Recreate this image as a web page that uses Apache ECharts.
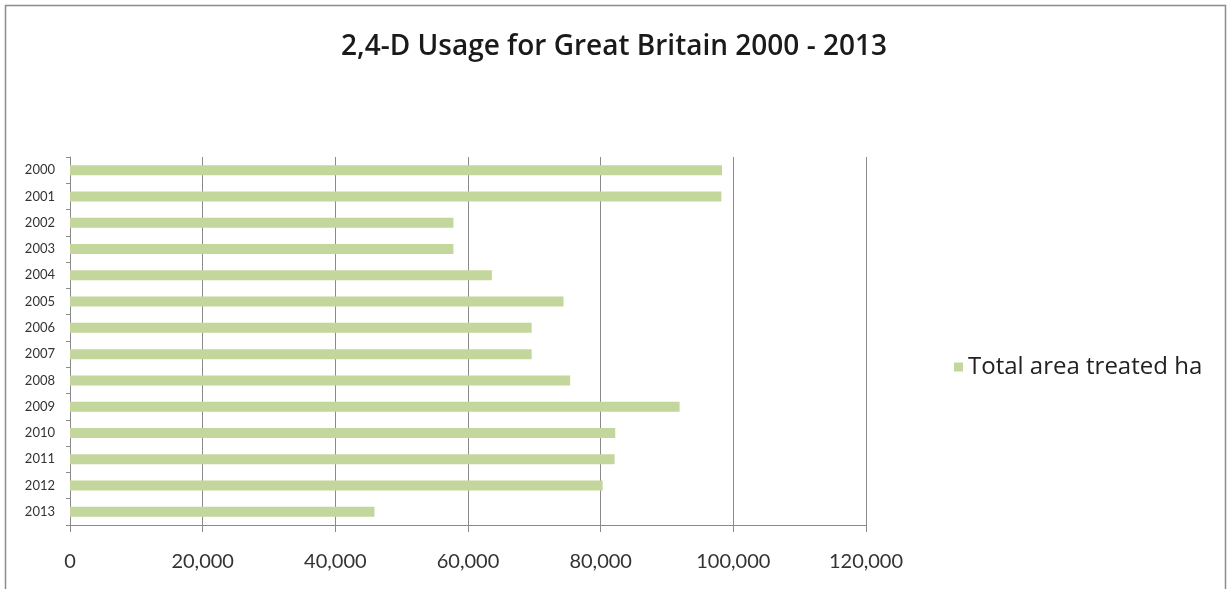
<!DOCTYPE html>
<html><head><meta charset="utf-8">
<script src="https://cdn.jsdelivr.net/npm/echarts@6/dist/echarts.min.js"></script>
<style>html,body{margin:0;padding:0;background:#fff}#c{width:1228px;height:589px}</style>
</head><body><div id="c"></div>
<script>
const title = '2,4-D Usage for Great Britain 2000 - 2013';
const years = ['2000','2001','2002','2003','2004','2005','2006','2007','2008','2009','2010','2011','2012','2013'];
const seriesName = 'Total area treated ha';
const areaTreated = [98300,98200,57800,57800,63600,74400,69600,69600,75400,91900,82200,82100,80300,45900];
const xTicks = {min:0, max:120000, interval:20000};

const chart = echarts.init(document.getElementById('c'), null, {renderer:'canvas'});
chart.setOption({
  animation:false,
  backgroundColor:'#fff',
  graphic:[{type:'rect', shape:{x:5.5,y:5.5,width:1220,height:590}, style:{fill:'none', stroke:'#8c8c8c', lineWidth:1.5}, silent:true}],
  title:{text:title, left:'center', top:28, textStyle:{fontFamily:'Open Sans', fontSize:28, fontWeight:600, color:'#1a1a1a'}},
  legend:{data:[seriesName], left:949, top:350, itemWidth:9, itemHeight:9, itemGap:5, icon:'rect',
    textStyle:{fontFamily:'Open Sans', fontSize:24, color:'#222'}},
  grid:{left:70, right:362, top:157, bottom:64, containLabel:false},
  xAxis:{type:'value', min:xTicks.min, max:xTicks.max, interval:xTicks.interval,
    axisLine:{show:true, lineStyle:{color:'#8a8a8a'}},
    axisTick:{show:true, length:7, lineStyle:{color:'#8a8a8a'}},
    splitLine:{show:true, lineStyle:{color:'#8a8a8a', width:1}},
    axisLabel:{fontFamily:'Lato', fontSize:20, color:'#333', margin:27,
      formatter:v=>v.toLocaleString('en-US')}},
  yAxis:{type:'category', data:years, inverse:true,
    axisLine:{show:true, lineStyle:{color:'#8a8a8a'}},
    axisTick:{show:true, length:4, lineStyle:{color:'#8a8a8a'}},
    splitLine:{show:false},
    axisLabel:{fontFamily:'Lato', fontSize:13, color:'#333', margin:15}},
  series:[{name:seriesName, type:'bar', data:areaTreated, barWidth:10,
    itemStyle:{color:'#c3d69b'}}]
});
</script></body></html>
